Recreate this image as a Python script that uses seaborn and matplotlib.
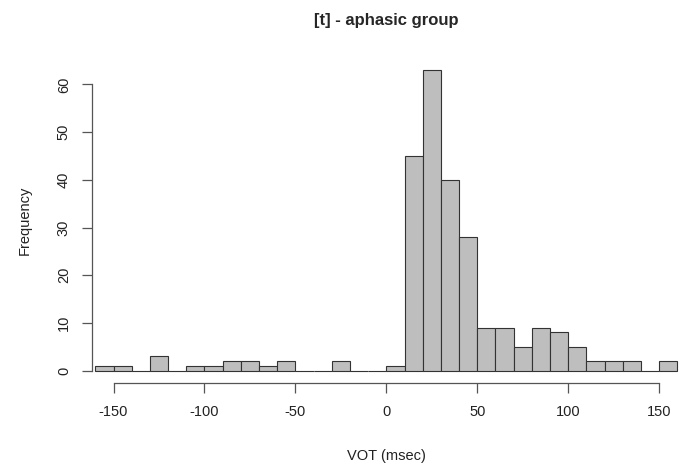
import numpy as np
import seaborn as sns
import matplotlib.pyplot as plt

# VOT histogram, 10 msec bins from -160 to 160
bin_edges = list(range(-160, 170, 10))
counts = [1, 1, 0, 3, 0, 1, 1, 2, 2, 1, 2, 0, 0, 2, 0, 0,
          1, 45, 63, 40, 28, 9, 9, 5, 9, 8, 5, 2, 2, 2, 0, 2]
x_ticks = [-150, -100, -50, 0, 50, 100, 150]
y_ticks = [0, 10, 20, 30, 40, 50, 60]

centers = [e + 5 for e in bin_edges[:-1]]

sns.set_style('white')
plt.rcParams['font.family'] = ['Liberation Sans', 'DejaVu Sans']
plt.rcParams['axes.unicode_minus'] = False

fig = plt.figure(figsize=(6.81, 4.66), dpi=100)
ax = fig.add_axes([0.1347, 0.1788, 0.8653, 0.6967])

sns.histplot(x=centers, weights=counts, bins=bin_edges, stat='count',
             color='#BEBEBE', edgecolor='#333333', linewidth=0.8, alpha=1, ax=ax)

ax.set_xlim(-162, 162)
ax.set_ylim(-2.52, 65.52)
ax.set_xticks(x_ticks)
ax.set_yticks(y_ticks)
ax.set_yticklabels([str(v) for v in y_ticks], rotation=90, va='center')

for s in ['top', 'right']:
    ax.spines[s].set_visible(False)
ax.spines['bottom'].set_bounds(-150, 150)
ax.spines['left'].set_bounds(0, 60)
for s in ['bottom', 'left']:
    ax.spines[s].set_color('#555555')
    ax.spines[s].set_linewidth(0.9)

ax.tick_params(axis='both', direction='out', length=7, width=0.9, color='#555555',
               labelsize=10.5, labelcolor='#222222', pad=9, left=True, bottom=True)
ax.tick_params(axis='y', pad=8)

ax.set_xlabel('VOT (msec)', fontsize=10.5, color='#222222', labelpad=22)
ax.set_ylabel('Frequency', fontsize=10.5, color='#222222', labelpad=18)
ax.set_title('[t] - aphasic group', fontsize=12, fontweight='bold', pad=24)

fig.savefig('out.png', dpi=100)
